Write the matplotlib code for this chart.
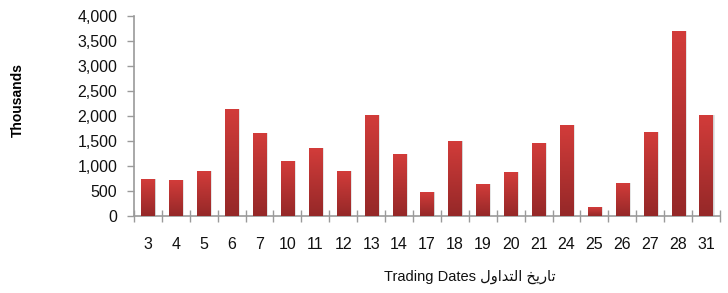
import matplotlib
matplotlib.use("Agg")
import matplotlib.pyplot as plt
import numpy as np
from matplotlib.colors import LinearSegmentedColormap
from matplotlib.ticker import FuncFormatter

# trading day of month and traded volume (thousands)
days = ["3", "4", "5", "6", "7", "10", "11", "12", "13", "14", "17",
        "18", "19", "20", "21", "24", "25", "26", "27", "28", "31"]
volume = [740, 720, 900, 2150, 1670, 1100, 1350, 900, 2030, 1230, 480,
          1510, 640, 880, 1470, 1820, 180, 660, 1690, 3700, 2030]

ylabel = "Thousands"
# "تاريخ التداول" written in shaped presentation forms, visual order
arabic = "\uFEDD\uFEED\uFE8D\uFEAA\uFE98\uFEDF\uFE8D \uFEA6\uFEF3\uFEAD\uFE8E\uFE97"
xlabel = "Trading Dates " + arabic

fonts = ["Liberation Sans", "DejaVu Sans"]
plt.rcParams["font.family"] = fonts

fig = plt.figure(figsize=(7.28, 2.93), dpi=100)
ax = fig.add_axes([0.184, 0.263, 0.805, 0.682])

x = np.arange(len(days))
w = 0.47

# soft shadow on the right side of each bar
ax.bar(x + 0.07, volume, width=w, color="#000000", alpha=0.10, zorder=1)
ax.bar(x + 0.04, volume, width=w, color="#000000", alpha=0.08, zorder=1)

cmap = LinearSegmentedColormap.from_list("red", ["#952828", "#d23c3a"])
grad = np.linspace(0, 1, 100).reshape(-1, 1)
bars = ax.bar(x, volume, width=w, color="#c03434", zorder=2)
for b in bars:
    x0, y0 = b.get_x(), b.get_y()
    im = ax.imshow(grad, cmap=cmap, origin="lower", aspect="auto",
                   extent=[x0, x0 + b.get_width(), y0, y0 + b.get_height()],
                   zorder=3)
    im.set_clip_path(b)

ax.set_xlim(-0.5, len(days) - 0.5)
ax.set_ylim(0, 4000)
ax.set_yticks(np.arange(0, 4001, 500))
ax.yaxis.set_major_formatter(FuncFormatter(lambda v, p: f"{int(v):,}"))

ax.set_xticks(x)
ax.set_xticklabels(days)
ax.set_xticks(np.arange(-0.5, len(days)), minor=True)
ax.tick_params(axis="x", which="major", length=0, pad=15, labelsize=11.5,
               colors="#111111")
ax.tick_params(axis="x", which="minor", length=8, direction="inout",
               color="#9a9a9a", width=1)
ax.tick_params(axis="y", length=5, direction="out", color="#9a9a9a",
               width=1, pad=7, labelsize=11.5, labelcolor="#111111")

for s in ["top", "right"]:
    ax.spines[s].set_visible(False)
for s in ["left", "bottom"]:
    ax.spines[s].set_color("#9a9a9a")
    ax.spines[s].set_linewidth(1.2)

fig.text(0.025, 0.66, ylabel, rotation=90, fontsize=10, fontweight="bold",
         ha="center", va="center")
fig.text(0.645, 0.055, xlabel, fontsize=10.5, ha="center", va="center",
         color="#111111")

fig.savefig("out.png", dpi=100)
